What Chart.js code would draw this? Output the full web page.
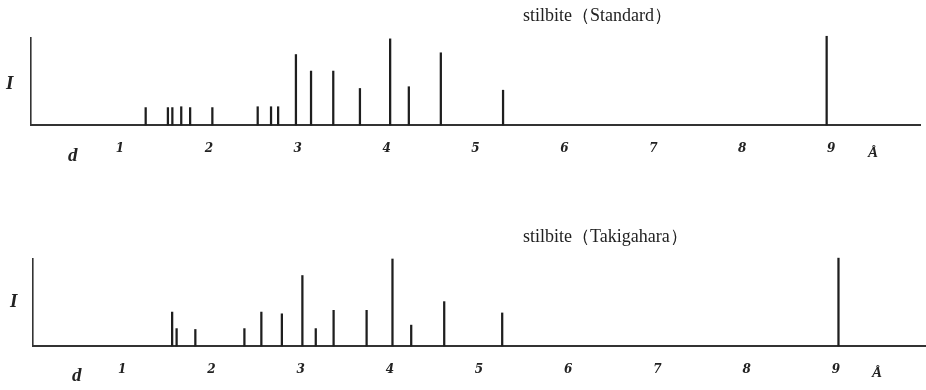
<!DOCTYPE html>
<html>
<head>
<meta charset="utf-8">
<script src="https://cdn.jsdelivr.net/npm/chart.js@4/dist/chart.umd.min.js"></script>
<style>
  body { margin: 0; background: #fff; width: 926px; height: 390px; position: relative; overflow: hidden; }
  .panel { position: absolute; left: 0; width: 926px; height: 170px; }
  .lbl { position: absolute; font-family: 'Liberation Serif', 'DejaVu Serif', serif; color: #222; white-space: nowrap; }
  .ttl { font-size: 18px; }
  .ax { font-size: 19px; font-weight: bold; font-style: italic; }
</style>
</head>
<body>
<div class="panel" style="top:0"><canvas id="standard" width="926" height="170"></canvas></div>
<div class="panel" style="top:220px"><canvas id="takigahara" width="926" height="170"></canvas></div>

<div class="lbl ttl" style="left:523px; top:3px">stilbite（Standard）</div>
<div class="lbl ttl" style="left:523px; top:224px">stilbite（Takigahara）</div>
<div class="lbl ax" style="left:6px; top:72px">I</div>
<div class="lbl ax" style="left:10px; top:290px">I</div>
<div class="lbl ax" style="left:68px; top:144px">d</div>
<div class="lbl ax" style="left:72px; top:364px">d</div>
<div class="lbl ax" style="left:868px; top:144px; font-size:15px">Å</div>
<div class="lbl ax" style="left:872px; top:364px; font-size:15px">Å</div>

<script>
// d-spacing (Å) e intensidade relativa
var tickLabels = [1, 2, 3, 4, 5, 6, 7, 8, 9];

var standardD = [1.29, 1.54, 1.59, 1.69, 1.79, 2.04, 2.55, 2.70, 2.78, 2.98, 3.15, 3.40, 3.70, 4.04, 4.25, 4.61, 5.31, 8.95];
var standardI = [20, 20, 20, 21, 20, 20, 21, 21, 21, 81, 62, 62, 42, 99, 44, 83, 40, 102];

var takigaharaD = [1.56, 1.61, 1.82, 2.37, 2.56, 2.79, 3.02, 3.17, 3.37, 3.74, 4.03, 4.24, 4.61, 5.26, 9.03];
var takigaharaI = [39, 20, 19, 20, 39, 37, 81, 20, 41, 41, 100, 24, 51, 38, 101];

function pontos(ds, is) {
    return ds.map(function (d, i) { return { x: d, y: is[i] }; });
}

function graficoStick(id, ds, is, pad, axisH) {
    var ctx = document.getElementById(id).getContext('2d');
    return new Chart(ctx, {
        type: 'bar',
        data: {
            datasets: [{
                data: pontos(ds, is),
                backgroundColor: '#1e1e1e',
                barThickness: 1.6,
                clip: false
            }]
        },
        options: {
            responsive: false,
            animation: false,
            events: [],
            layout: { padding: pad },
            plugins: { legend: { display: false }, tooltip: { enabled: false } },
            scales: {
                x: {
                    type: 'linear',
                    offset: false,
                    min: 0,
                    max: 10,
                    afterBuildTicks: function (scale) {
                        scale.ticks = tickLabels.map(function (v) { return { value: v }; });
                    },
                    afterFit: function (scale) { scale.height = axisH; },
                    grid: { display: false },
                    border: { display: true, color: '#333', width: 2 },
                    ticks: {
                        padding: 9,
                        color: '#222',
                        font: { family: "'DejaVu Serif', serif", size: 12, weight: 'bold', style: 'italic' }
                    }
                },
                y: {
                    min: 0,
                    max: 100,
                    afterFit: function (scale) { scale.width = 0; },
                    grid: { display: false },
                    border: { display: true, color: '#333', width: 1.6 },
                    ticks: { display: false }
                }
            }
        }
    });
}

graficoStick('standard', standardD, standardI, { top: 38, left: 31, right: 6, bottom: 0 }, 45);
graficoStick('takigahara', takigaharaD, takigaharaI, { top: 39, left: 33, right: 1, bottom: 0 }, 44);
</script>
</body>
</html>
